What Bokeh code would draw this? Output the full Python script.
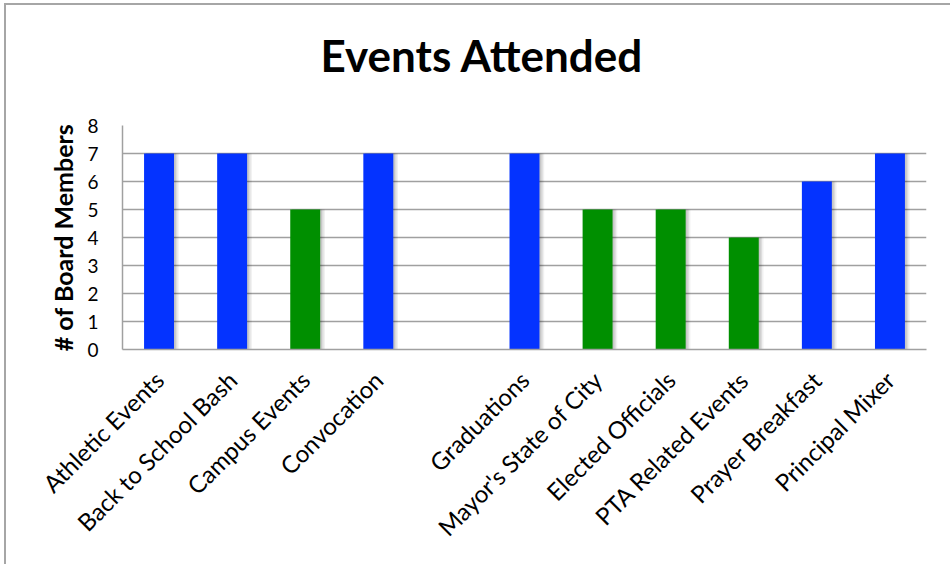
from bokeh.plotting import figure
from bokeh.models import ColumnDataSource, FactorRange, Range1d, FixedTicker, Title
from bokeh.transform import dodge
from bokeh.embed import file_html
from bokeh.resources import INLINE

# ---- data ----
categories = ["Athletic Events", "Back to School Bash", "Campus Events", "Convocation", " ",
              "Graduations", "Mayor's State of City", "Elected Officials", "PTA Related Events",
              "Prayer Breakfast", "Principal Mixer"]
members = [7, 7, 5, 7, None, 7, 5, 5, 4, 6, 7]
bar_colors = ["#0433FF", "#0433FF", "#008F00", "#0433FF", None,
              "#0433FF", "#008F00", "#008F00", "#008F00", "#0433FF", "#0433FF"]
y_ticks = [0, 1, 2, 3, 4, 5, 6, 7, 8]
chart_title = "Events Attended"

cats, vals, cols = [], [], []
for c, v, col in zip(categories, members, bar_colors):
    if v is not None:
        cats.append(c); vals.append(v); cols.append(col)
src = ColumnDataSource(dict(cat=cats, val=vals, col=cols))

FONT = "Lato"

p = figure(x_range=FactorRange(*categories), y_range=Range1d(0, 8),
           width=946, height=561, output_backend="svg", toolbar_location=None,
           min_border_left=116, min_border_right=26, min_border_top=120, min_border_bottom=217)
p.styles = {"margin-left": "4px", "margin-top": "3px",
            "border-left": "2px solid #A6A6A6", "border-top": "2px solid #A6A6A6"}

# spacer between frame and title, then the title itself
p.add_layout(Title(text=" ", text_font_size="1px", standoff=42), "above")
p.add_layout(Title(text=chart_title, align="left", offset=198, vertical_align="bottom",
                   standoff=0, text_font=FONT, text_font_size="44px",
                   text_font_style="bold", text_color="black"), "above")

p.outline_line_color = None
p.background_fill_color = "white"
p.border_fill_color = "white"

# shadows (soft, offset right/down)
for dx, extra, a in [(0.045, 0.04, 0.06), (0.035, 0.02, 0.08), (0.025, 0.0, 0.10)]:
    p.vbar(x=dodge("cat", dx, range=p.x_range), top="val", bottom=0, width=0.41 + extra,
           source=src, fill_color="black", fill_alpha=a, line_color=None)

p.vbar(x="cat", top="val", width=0.41, source=src, fill_color="col", line_color=None)

# y axis
p.yaxis.ticker = FixedTicker(ticks=y_ticks)
p.yaxis.axis_label = "# of Board Members"
p.yaxis.axis_label_text_font = FONT
p.yaxis.axis_label_text_font_style = "bold"
p.yaxis.axis_label_text_font_size = "25px"
p.yaxis.axis_label_text_color = "black"
p.yaxis.axis_label_standoff = 6
p.yaxis.major_label_text_font = FONT
p.yaxis.major_label_text_font_size = "19px"
p.yaxis.major_label_text_color = "black"
p.yaxis.major_label_standoff = 18
p.yaxis.major_tick_line_color = None
p.yaxis.minor_tick_line_color = None
p.yaxis.axis_line_color = "#A0A0A0"
p.yaxis.axis_line_width = 1.5

# x axis
p.xaxis.major_label_orientation = 0.785398
p.xaxis.major_label_text_font = FONT
p.xaxis.major_label_text_font_size = "24px"
p.xaxis.major_label_text_color = "black"
p.xaxis.major_label_standoff = 20
p.xaxis.major_tick_line_color = None
p.xaxis.minor_tick_line_color = None
p.xaxis.axis_line_color = "#A0A0A0"
p.xaxis.axis_line_width = 1.5

p.xgrid.grid_line_color = None
p.ygrid.grid_line_color = "#A0A0A0"
p.ygrid.grid_line_width = 1.5
p.ygrid.ticker = FixedTicker(ticks=y_ticks)

open("out.html", "w").write(file_html(p, INLINE))
